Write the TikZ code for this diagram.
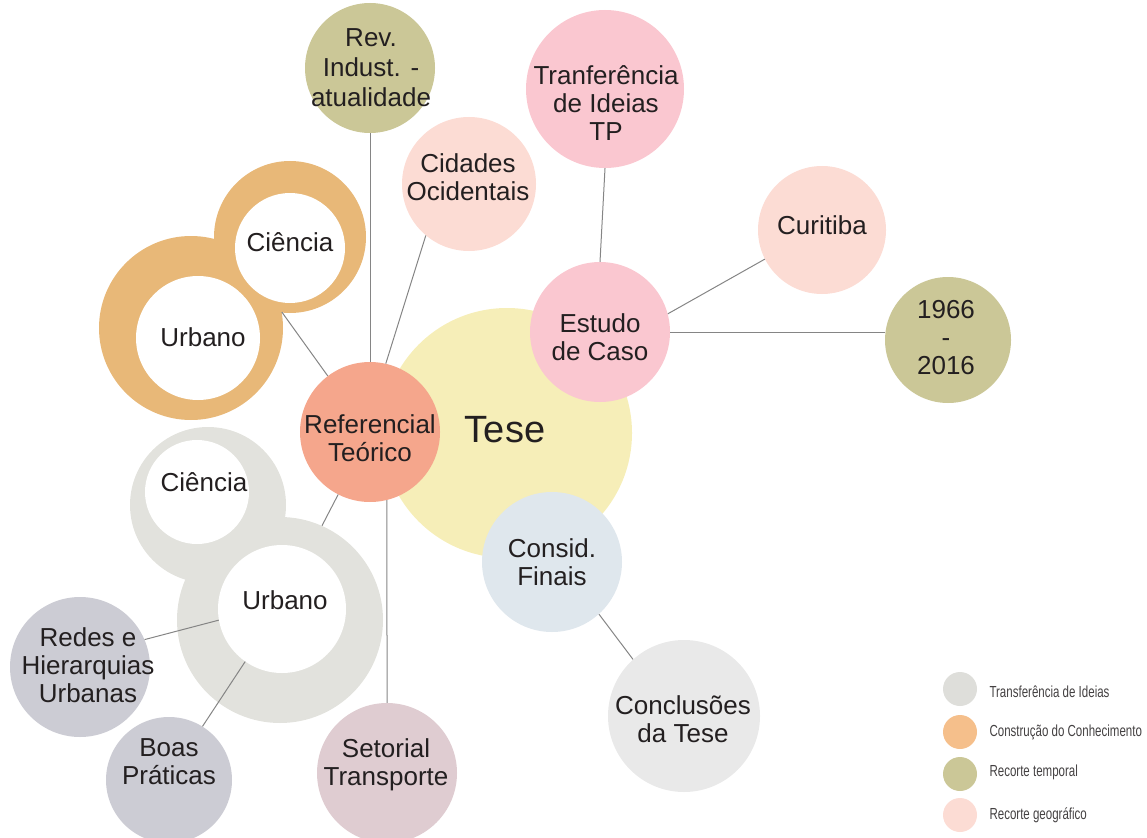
\documentclass[tikz,border=0pt]{standalone}
\usepackage{fontspec}
\setmainfont{Liberation Sans}
\newfontfamily\narrowfont[FakeStretch=0.72]{Liberation Sans}
\definecolor{ink}{HTML}{231F20}
\definecolor{teseyellow}{HTML}{F6EEB8}
\definecolor{refsalmon}{HTML}{F5A68C}
\definecolor{casepink}{HTML}{FAC7D0}
\definecolor{geopink}{HTML}{FCDCD4}
\definecolor{timeolive}{HTML}{CBC797}
\definecolor{knoworange}{HTML}{E8B878}
\definecolor{ideagrey}{HTML}{E2E2DD}
\definecolor{netgrey}{HTML}{CCCCD4}
\definecolor{transmauve}{HTML}{DFCCD1}
\definecolor{finalblue}{HTML}{DFE7ED}
\definecolor{conclgrey}{HTML}{E9E9E9}
\definecolor{linkgrey}{HTML}{858585}
\definecolor{keygrey}{HTML}{DEDEDA}
\definecolor{keyorange}{HTML}{F5BF8B}
\begin{document}
\begin{tikzpicture}[x=1pt, y=-1pt,
  bub/.style={circle, inner sep=0pt, minimum size=#1},
  lbl/.style={align=center, text=ink, font=\fontsize{26}{28}\selectfont},
  link/.style={draw=linkgrey, line width=1pt},
  keytxt/.style={anchor=west, text=ink!85, font=\narrowfont\fontsize{16}{18}\selectfont}]
  \useasboundingbox (0,0) rectangle (1147,837);
  % central theme
  \node[bub=250pt, fill=teseyellow] (tese) at (507,433) {};
  \node[lbl, font=\fontsize{38}{40}\selectfont] (tese-t) at (505,430) {Tese};
  % construction of knowledge (orange rings)
  \node[bub=152pt, fill=knoworange] (ocie) at (290,237) {};
  \node[bub=184pt, fill=knoworange] (ourb) at (191,328) {};
  \node[bub=110pt, fill=white] (ociein) at (290,248) {};
  \node[bub=124pt, fill=white] (ourbin) at (198,338) {};
  \node[lbl] (ocie-t) at (290,242) {Ciência};
  \node[lbl] (ourb-t) at (203,337) {Urbano};
  % transfer of ideas (grey rings)
  \node[bub=156pt, fill=ideagrey] (gcie) at (208,505) {};
  \node[bub=206pt, fill=ideagrey] (gurb) at (280,620) {};
  \node[bub=104pt, fill=white] (gciein) at (197,492) {};
  \node[bub=128pt, fill=white] (gurbin) at (282,609) {};
  \node[lbl] (gcie-t) at (204,482) {Ciência};
  \node[lbl] (gurb-t) at (285,600) {Urbano};
  % satellites
  \node[bub=140pt, fill=refsalmon] (ref) at (370,432) {};
  \node[lbl] (ref-t) at (370,438) {Referencial\\Teórico};
  \node[bub=130pt, fill=timeolive] (rev) at (370,68) {};
  \node[lbl, font=\fontsize{26}{30}\selectfont] (rev-t) at (371,68) {Rev.\\Indust. -\\atualidade};
  \node[bub=134pt, fill=geopink] (cid) at (469,184) {};
  \node[lbl] (cid-t) at (468,177) {Cidades\\Ocidentais};
  \node[bub=140pt, fill=transmauve] (set) at (387,773) {};
  \node[lbl] (set-t) at (386,765) {Setorial\\Transporte};
  \node[bub=140pt, fill=netgrey] (red) at (80,667) {};
  \node[lbl] (red-t) at (88,665) {Redes e\\Hierarquias\\Urbanas};
  \node[bub=126pt, fill=netgrey] (boa) at (169,780) {};
  \node[lbl] (boa-t) at (169,762) {Boas\\Práticas};
  \node[bub=140pt, fill=casepink] (est) at (600,332) {};
  \node[lbl] (est-t) at (600,337) {Estudo\\de Caso};
  \node[bub=158pt, fill=casepink] (tra) at (605,89) {};
  \node[lbl] (tra-t) at (606,103) {Tranferência\\de Ideias\\TP};
  \node[bub=128pt, fill=geopink] (cur) at (822,230) {};
  \node[lbl] (cur-t) at (822,225) {Curitiba};
  \node[bub=126pt, fill=timeolive] (yr) at (948,340) {};
  \node[lbl] (yr-t) at (946,338) {1966\\-\\2016};
  \node[bub=140pt, fill=finalblue] (con) at (552,562) {};
  \node[lbl] (con-t) at (552,562) {Consid.\\Finais};
  \node[bub=152pt, fill=conclgrey] (clu) at (684,716) {};
  \node[lbl] (clu-t) at (683,719) {Conclusões\\da Tese};
  % connectors
  \draw[link] (ref.north) -- (rev.south);
  \draw[link] (ref.77) -- (cid.230);
  \draw[link] (ref.127) -- (ourb.10);
  \draw[link] (ref.243) -- (gurb.66);
  \draw[link] (ref.-76) -- (set.north);
  \draw[link] (gurbin.190) -- (red.23);
  \draw[link] (gurbin.235) -- (boa.58);
  \draw[link] (est.north) -- (tra.south);
  \draw[link] (est.15) -- (cur.207);
  \draw[link] (est.east) -- (est.east -| yr.west);
  \draw[link] (con.-48) -- (clu.132);
  % legend
  \node[bub=34pt, fill=keygrey] (k1) at (960,689) {};
  \node[keytxt] (k1-t) at (986,692) {Transferência de Ideias};
  \node[bub=34pt, fill=keyorange] (k2) at (960,732) {};
  \node[keytxt] (k2-t) at (986,732) {Construção do Conhecimento};
  \node[bub=34pt, fill=timeolive] (k3) at (960,774) {};
  \node[keytxt] (k3-t) at (986,772) {Recorte temporal};
  \node[bub=34pt, fill=geopink] (k4) at (960,815) {};
  \node[keytxt] (k4-t) at (986,815) {Recorte geográfico};
\end{tikzpicture}
\end{document}
